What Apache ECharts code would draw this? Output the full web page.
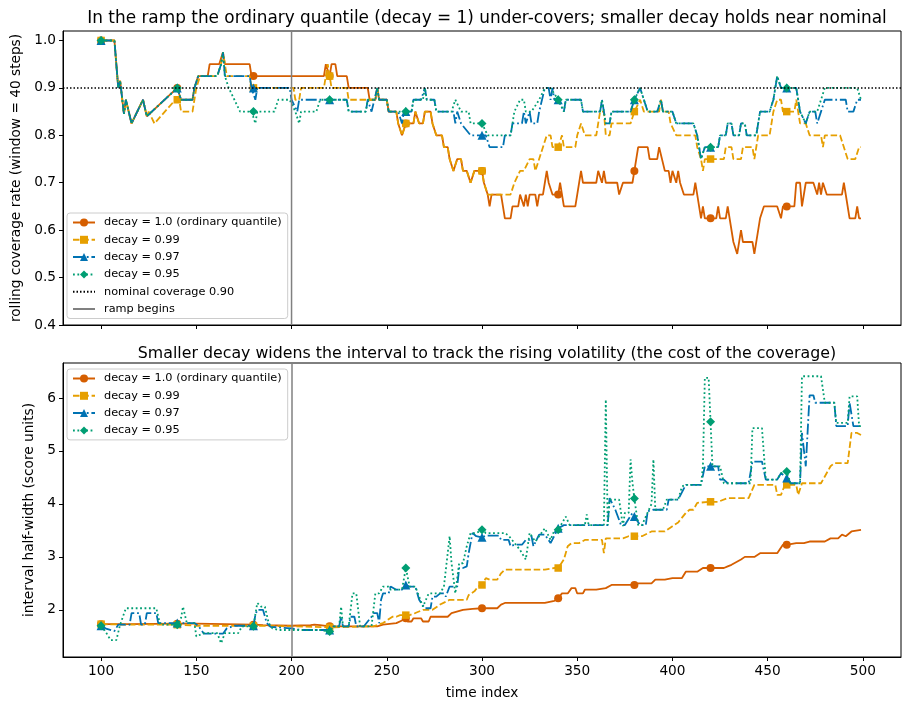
<!DOCTYPE html>
<html><head><meta charset="utf-8">
<script src="https://cdn.jsdelivr.net/npm/echarts@6/dist/echarts.min.js"></script>
<style>html,body{margin:0;padding:0;background:#fff}#c{width:911px;height:711px}</style>
</head><body><div id="c"></div>
<script>
const seriesNames = ['decay = 1.0 (ordinary quantile)', 'decay = 0.99', 'decay = 0.97', 'decay = 0.95'];
const nominalName = 'nominal coverage 0.90';
const rampName = 'ramp begins';
const nominalCoverage = 0.9;
const rampStart = 200;
const markerTimes = [100,140,180,220,260,300,340,380,420,460];
const xTicks = [100,150,200,250,300,350,400,450,500];
const topYTicks = [0.4,0.5,0.6,0.7,0.8,0.9,1.0];
const botYTicks = [2,3,4,5,6];

// rolling coverage (top panel): [time, coverage]
const covOrd = [[100,1.0],[107,1.0],[109,0.9],[110,0.915],[112,0.845],[113,0.875],[116,0.825],[122,0.875],[124,0.84],[140,0.9],[141,0.9],[142,0.875],[148,0.875],[149,0.9],[151,0.925],[156,0.925],[157,0.95],[162,0.95],[164,0.975],[165,0.95],[178,0.95],[179,0.925],[180,0.925],[217,0.925],[218,0.95],[219,0.95],[220,0.925],[221,0.95],[223,0.95],[224,0.925],[229,0.925],[230,0.9],[240,0.9],[241,0.875],[244,0.875],[245,0.9],[246,0.875],[250,0.875],[251,0.85],[255,0.85],[256,0.825],[258,0.8],[260,0.825],[264,0.825],[265,0.85],[266,0.85],[267,0.825],[269,0.825],[270,0.85],[273,0.85],[274,0.825],[276,0.8],[279,0.8],[280,0.775],[282,0.775],[283,0.75],[285,0.725],[287,0.75],[289,0.75],[290,0.725],[292,0.725],[294,0.7],[296,0.725],[300,0.725],[301,0.7],[303,0.675],[304,0.65],[305,0.675],[310,0.675],[311,0.65],[312,0.625],[315,0.625],[316,0.65],[319,0.65],[320,0.675],[321,0.675],[322,0.65],[323,0.675],[324,0.65],[325,0.675],[328,0.675],[329,0.65],[330,0.675],[332,0.675],[333,0.7],[334,0.725],[335,0.7],[336,0.7],[337,0.675],[340,0.675],[341,0.7],[342,0.675],[343,0.65],[349,0.65],[350,0.675],[352,0.725],[353,0.7],[360,0.7],[361,0.725],[362,0.725],[363,0.7],[364,0.725],[365,0.7],[371,0.7],[372,0.675],[373,0.675],[374,0.7],[379,0.7],[380,0.725],[382,0.775],[387,0.775],[388,0.75],[392,0.75],[393,0.775],[394,0.775],[396,0.725],[398,0.725],[399,0.7],[400,0.725],[402,0.7],[403,0.725],[404,0.7],[406,0.675],[411,0.675],[412,0.7],[413,0.675],[415,0.625],[416,0.65],[417,0.625],[420,0.625],[423,0.625],[424,0.65],[425,0.625],[428,0.625],[429,0.65],[430,0.65],[432,0.575],[434,0.55],[436,0.6],[437,0.575],[442,0.575],[443,0.55],[444,0.55],[446,0.625],[448,0.65],[455,0.65],[457,0.625],[458,0.65],[460,0.65],[464,0.65],[465,0.7],[467,0.7],[468,0.65],[470,0.7],[474,0.7],[476,0.675],[477,0.7],[478,0.675],[479,0.7],[480,0.7],[481,0.675],[489,0.675],[490,0.7],[491,0.7],[493,0.625],[496,0.625],[497,0.65],[498,0.625],[499,0.625]];
const cov99 = [[100,1.0],[107,1.0],[109,0.9],[110,0.915],[112,0.845],[113,0.875],[116,0.825],[122,0.875],[124,0.84],[125,0.85],[128,0.825],[139,0.875],[140,0.875],[141,0.875],[142,0.85],[148,0.85],[149,0.875],[150,0.9],[152,0.925],[161,0.925],[163,0.95],[164,0.975],[165,0.95],[166,0.925],[178,0.925],[179,0.9],[180,0.9],[201,0.9],[202,0.875],[204,0.875],[205,0.9],[217,0.9],[218,0.925],[219,0.95],[220,0.925],[221,0.9],[229,0.9],[230,0.875],[240,0.875],[241,0.875],[244,0.875],[245,0.9],[246,0.875],[250,0.875],[251,0.85],[255,0.85],[256,0.825],[258,0.8],[260,0.825],[264,0.825],[265,0.85],[266,0.85],[267,0.825],[269,0.825],[270,0.85],[273,0.85],[274,0.825],[276,0.8],[279,0.8],[280,0.775],[282,0.775],[283,0.75],[285,0.725],[287,0.75],[289,0.75],[290,0.725],[292,0.725],[294,0.7],[296,0.725],[300,0.725],[301,0.7],[303,0.675],[315,0.675],[317,0.7],[320,0.725],[322,0.725],[325,0.75],[327,0.75],[328,0.725],[332,0.775],[334,0.8],[336,0.8],[337,0.775],[340,0.775],[341,0.775],[342,0.8],[343,0.775],[349,0.775],[350,0.8],[352,0.825],[354,0.8],[360,0.8],[362,0.85],[364,0.85],[365,0.8],[367,0.8],[368,0.825],[378,0.825],[380,0.85],[383,0.875],[385,0.85],[393,0.85],[394,0.875],[395,0.85],[398,0.85],[399,0.825],[402,0.8],[412,0.8],[413,0.775],[415,0.75],[416,0.725],[417,0.75],[420,0.75],[427,0.75],[428,0.775],[431,0.775],[432,0.75],[436,0.75],[437,0.775],[442,0.775],[443,0.75],[445,0.8],[451,0.8],[453,0.85],[455,0.875],[457,0.875],[458,0.85],[460,0.85],[464,0.85],[465,0.875],[467,0.825],[470,0.825],[472,0.8],[478,0.8],[479,0.775],[480,0.8],[488,0.8],[492,0.75],[496,0.75],[498,0.775],[499,0.775]];
const cov97 = [[100,1.0],[107,1.0],[109,0.9],[110,0.915],[112,0.845],[113,0.875],[116,0.825],[122,0.875],[124,0.84],[140,0.9],[141,0.9],[142,0.875],[148,0.875],[149,0.9],[151,0.925],[161,0.925],[163,0.95],[164,0.975],[165,0.925],[178,0.925],[179,0.9],[180,0.9],[181,0.875],[182,0.9],[199,0.9],[200,0.875],[203,0.85],[204,0.875],[220,0.875],[229,0.875],[230,0.85],[239,0.85],[240,0.875],[242,0.85],[245,0.9],[246,0.875],[250,0.875],[251,0.85],[256,0.85],[258,0.825],[259,0.85],[260,0.85],[263,0.85],[264,0.875],[268,0.875],[270,0.9],[271,0.875],[275,0.875],[276,0.85],[285,0.85],[286,0.825],[287,0.85],[288,0.85],[289,0.825],[294,0.8],[300,0.8],[302,0.8],[304,0.775],[311,0.775],[312,0.8],[315,0.8],[316,0.825],[321,0.825],[322,0.85],[323,0.825],[324,0.825],[325,0.85],[326,0.825],[329,0.825],[330,0.85],[333,0.9],[335,0.9],[336,0.875],[337,0.9],[338,0.875],[340,0.875],[341,0.875],[343,0.85],[344,0.875],[352,0.875],[353,0.85],[362,0.85],[363,0.875],[365,0.825],[367,0.825],[368,0.85],[378,0.85],[380,0.875],[383,0.9],[385,0.875],[387,0.85],[392,0.85],[394,0.875],[395,0.85],[400,0.85],[402,0.825],[411,0.825],[413,0.8],[415,0.75],[417,0.775],[420,0.775],[424,0.775],[425,0.8],[428,0.8],[429,0.825],[431,0.825],[432,0.8],[435,0.8],[436,0.825],[438,0.825],[439,0.8],[444,0.8],[446,0.85],[451,0.85],[453,0.875],[455,0.925],[457,0.9],[460,0.9],[465,0.9],[467,0.85],[470,0.825],[471,0.825],[472,0.85],[475,0.85],[476,0.825],[478,0.85],[480,0.875],[491,0.875],[492,0.85],[495,0.85],[497,0.875],[499,0.875]];
const cov95 = [[100,1.0],[107,1.0],[109,0.9],[110,0.915],[112,0.845],[113,0.875],[116,0.825],[122,0.875],[124,0.84],[140,0.9],[141,0.9],[142,0.875],[148,0.875],[149,0.9],[151,0.925],[161,0.925],[163,0.95],[164,0.975],[165,0.925],[167,0.9],[170,0.875],[173,0.85],[179,0.85],[180,0.85],[181,0.825],[182,0.85],[191,0.85],[193,0.875],[199,0.875],[202,0.85],[204,0.825],[205,0.85],[213,0.85],[215,0.875],[220,0.875],[229,0.875],[230,0.85],[239,0.85],[240,0.875],[244,0.875],[245,0.9],[246,0.875],[250,0.875],[251,0.85],[260,0.85],[263,0.85],[264,0.875],[269,0.875],[270,0.9],[271,0.875],[275,0.875],[276,0.85],[284,0.85],[286,0.875],[287,0.875],[289,0.85],[293,0.85],[294,0.825],[300,0.825],[301,0.825],[303,0.8],[315,0.8],[317,0.85],[320,0.875],[322,0.875],[323,0.85],[326,0.85],[330,0.875],[333,0.9],[336,0.9],[340,0.875],[341,0.875],[343,0.85],[344,0.875],[352,0.875],[353,0.85],[362,0.85],[363,0.875],[365,0.825],[367,0.825],[368,0.85],[378,0.85],[380,0.875],[383,0.9],[385,0.875],[387,0.85],[392,0.85],[394,0.875],[395,0.85],[400,0.85],[402,0.825],[411,0.825],[413,0.8],[415,0.75],[417,0.775],[420,0.775],[424,0.775],[425,0.8],[428,0.8],[429,0.825],[431,0.825],[432,0.8],[435,0.8],[436,0.825],[438,0.825],[439,0.8],[444,0.8],[446,0.85],[451,0.85],[453,0.875],[455,0.925],[457,0.9],[460,0.9],[465,0.9],[467,0.85],[470,0.825],[472,0.85],[476,0.85],[478,0.875],[480,0.9],[497,0.9],[499,0.875]];

// interval half-width (bottom panel): [time, half-width]
const hwOrd = [[100,1.73],[115,1.73],[116,1.74],[140,1.74],[150,1.74],[151,1.72],[180,1.72],[185,1.71],[200,1.7],[210,1.71],[212,1.72],[215,1.71],[220,1.69],[245,1.69],[248,1.72],[255,1.75],[258,1.8],[259,1.84],[260,1.84],[261,1.78],[263,1.78],[264,1.84],[268,1.84],[269,1.78],[272,1.78],[273,1.87],[282,1.87],[284,1.94],[290,2.0],[295,2.02],[300,2.03],[308,2.03],[310,2.1],[312,2.13],[333,2.13],[338,2.17],[340,2.22],[342,2.31],[345,2.31],[347,2.41],[349,2.41],[350,2.31],[353,2.31],[354,2.38],[360,2.38],[361,2.41],[365,2.41],[368,2.47],[380,2.47],[382,2.5],[389,2.5],[391,2.57],[396,2.57],[400,2.6],[405,2.6],[407,2.72],[413,2.72],[416,2.79],[420,2.79],[427,2.79],[429,2.82],[431,2.85],[436,2.95],[438,3.0],[443,3.0],[446,3.07],[455,3.07],[458,3.23],[460,3.23],[462,3.24],[465,3.26],[469,3.26],[472,3.29],[480,3.29],[483,3.35],[487,3.35],[489,3.42],[491,3.39],[494,3.48],[499,3.51]];
const hw99 = [[100,1.73],[115,1.72],[140,1.72],[150,1.7],[180,1.7],[200,1.69],[220,1.67],[243,1.69],[248,1.75],[253,1.87],[255,1.87],[257,1.9],[260,1.9],[262,1.9],[265,1.94],[269,2.0],[274,2.0],[278,2.1],[283,2.19],[292,2.19],[293,2.28],[296,2.35],[298,2.44],[300,2.47],[302,2.6],[304,2.57],[308,2.57],[310,2.69],[312,2.76],[333,2.76],[338,2.79],[340,2.79],[343,2.95],[345,3.2],[347,3.26],[351,3.26],[354,3.32],[363,3.32],[364,3.07],[365,3.35],[374,3.35],[377,3.39],[380,3.39],[384,3.39],[389,3.48],[396,3.48],[397,3.45],[400,3.58],[403,3.65],[407,3.83],[409,3.89],[411,3.89],[413,4.02],[420,4.04],[424,4.04],[429,4.11],[440,4.11],[443,4.36],[454,4.36],[455,4.17],[457,4.17],[459,4.36],[460,4.36],[465,4.36],[466,4.17],[467,4.17],[468,4.39],[478,4.39],[483,4.71],[485,4.77],[492,4.77],[494,5.34],[497,5.34],[499,5.3]];
const hw97 = [[100,1.7],[103,1.64],[107,1.6],[109,1.72],[115,1.72],[116,1.94],[120,1.94],[121,1.72],[123,1.72],[124,1.94],[129,1.94],[130,1.75],[140,1.75],[149,1.75],[151,1.7],[154,1.55],[164,1.55],[166,1.65],[170,1.7],[180,1.7],[181,1.9],[182,2.0],[185,2.0],[187,1.75],[189,1.68],[200,1.65],[205,1.62],[220,1.62],[222,1.69],[225,1.69],[226,1.87],[227,1.69],[230,1.69],[231,1.87],[233,1.87],[234,1.69],[238,1.69],[242,1.87],[243,1.94],[245,1.94],[246,1.75],[247,2.19],[248,2.31],[251,2.31],[252,2.44],[255,2.38],[258,2.38],[260,2.47],[262,2.44],[265,2.44],[267,2.19],[270,2.03],[273,2.03],[274,2.25],[276,2.25],[278,2.31],[280,2.31],[281,2.25],[283,2.44],[287,2.44],[288,2.79],[290,2.79],[292,2.82],[293,3.07],[295,3.45],[297,3.39],[300,3.37],[302,3.4],[309,3.4],[310,3.32],[314,3.32],[315,3.2],[316,3.2],[317,3.23],[321,3.23],[323,3.32],[325,3.32],[326,3.39],[327,3.2],[330,3.42],[333,3.42],[336,3.26],[338,3.4],[340,3.54],[343,3.6],[366,3.6],[367,4.11],[368,4.11],[370,3.89],[373,3.6],[375,3.6],[379,3.83],[380,3.76],[383,3.6],[386,3.6],[387,3.86],[390,3.89],[397,3.89],[398,4.08],[403,4.08],[407,4.36],[415,4.36],[417,4.71],[420,4.71],[424,4.71],[425,4.46],[427,4.46],[429,4.39],[440,4.39],[442,4.8],[447,4.8],[449,4.46],[455,4.46],[457,4.58],[460,4.49],[462,4.39],[467,4.39],[468,5.34],[469,5.34],[470,4.71],[472,6.05],[474,6.05],[475,5.91],[485,5.91],[486,5.47],[492,5.47],[493,5.91],[494,5.91],[495,5.47],[499,5.47]];
const hw95 = [[100,1.7],[103,1.55],[105,1.43],[108,1.43],[110,1.72],[113,2.03],[129,2.03],[131,1.72],[140,1.72],[142,1.85],[143,2.06],[144,2.06],[145,1.75],[149,1.75],[150,1.5],[154,1.56],[161,1.56],[163,1.37],[165,1.56],[172,1.56],[174,1.69],[180,1.69],[182,2.13],[184,2.06],[186,2.06],[188,1.75],[190,1.65],[193,1.62],[215,1.62],[220,1.59],[222,1.69],[225,1.69],[226,2.06],[227,1.69],[230,1.69],[232,2.31],[234,2.31],[236,1.69],[242,1.69],[244,2.31],[246,2.31],[248,2.44],[251,2.44],[252,2.38],[258,2.38],[260,2.79],[262,2.44],[265,2.44],[269,2.06],[272,2.31],[278,2.31],[280,2.44],[283,3.39],[284,2.88],[286,2.31],[288,2.88],[290,2.88],[292,3.2],[294,3.45],[297,3.45],[300,3.51],[302,3.45],[312,3.45],[314,3.4],[320,3.13],[323,2.95],[325,3.45],[328,3.29],[333,3.54],[336,3.32],[338,3.5],[340,3.51],[344,3.76],[346,3.6],[354,3.6],[355,3.8],[356,3.6],[364,3.6],[365,5.97],[366,3.6],[367,4.08],[372,4.08],[374,3.58],[375,3.83],[377,3.83],[378,4.84],[379,4.4],[380,4.1],[382,3.6],[384,3.6],[389,4.0],[390,4.84],[391,3.89],[395,3.89],[397,4.08],[403,4.08],[405,4.33],[407,4.36],[415,4.36],[416,4.71],[417,6.38],[419,6.38],[420,5.55],[421,4.71],[425,4.71],[427,4.39],[441,4.39],[442,5.43],[447,5.43],[449,4.46],[455,4.46],[457,4.58],[460,4.61],[462,4.39],[467,4.39],[468,6.41],[478,6.41],[480,5.91],[485,5.91],[486,5.53],[492,5.53],[493,6.03],[497,6.03],[498,5.47],[499,5.47]];

const colors = ['#D55E00', '#E69F00', '#0072B2', '#009E73'];
const symbols = ['circle', 'rect', 'triangle', 'diamond'];
const symbolSizes = [8, 7.5, 9, 9];
const dashes = ['solid', [6.5, 2.8], [11, 2.8, 1.8, 2.8], [1.8, 2.6]];
const FONT = 'DejaVu Sans';

function withMarkers(arr) {
  return arr.map(p => markerTimes.indexOf(p[0]) >= 0 ? { value: p } : { value: p, symbol: 'none' });
}

function mkSeries(i, data, axisIdx) {
  return {
    name: seriesNames[i], type: 'line', xAxisIndex: axisIdx, yAxisIndex: axisIdx,
    data: withMarkers(data), symbol: symbols[i], symbolSize: symbolSizes[i],
    showSymbol: true, showAllSymbol: true,
    lineStyle: { color: colors[i], width: 1.8, type: dashes[i] },
    itemStyle: { color: colors[i] },
    emphasis: { disabled: true }, animation: false, z: 2 + i
  };
}

const topSets = [covOrd, cov99, cov97, cov95];
const botSets = [hwOrd, hw99, hw97, hw95];
const series = [];
topSets.forEach((d, i) => series.push(mkSeries(i, d, 0)));
series.push({
  name: nominalName, type: 'line', xAxisIndex: 0, yAxisIndex: 0,
  data: [[80, nominalCoverage], [520, nominalCoverage]], symbol: 'circle', showSymbol: false,
  lineStyle: { color: '#000', width: 1.5, type: [1.5, 2] }, itemStyle: { color: '#000' },
  emphasis: { disabled: true }, animation: false, z: 7
});
series.push({
  name: rampName, type: 'line', xAxisIndex: 0, yAxisIndex: 0,
  data: [[rampStart, 0.4], [rampStart, 1.02]], symbol: 'circle', showSymbol: false,
  lineStyle: { color: '#808080', width: 1.5 }, itemStyle: { color: '#808080' },
  emphasis: { disabled: true }, animation: false, z: 8
});
botSets.forEach((d, i) => series.push(mkSeries(i, d, 1)));
series[series.length - 1].markLine = {
  silent: true, symbol: 'none', animation: false,
  label: { show: false },
  lineStyle: { color: '#808080', width: 1.5, type: 'solid' },
  data: [{ xAxis: rampStart }]
};

const axisCommon = {
  axisLine: { lineStyle: { color: '#000', width: 1 } },
  axisTick: { inside: false, length: 4, lineStyle: { color: '#000' } },
  splitLine: { show: false },
  axisLabel: { color: '#000', fontFamily: FONT, fontSize: 13.7 },
  nameTextStyle: { color: '#000', fontFamily: FONT, fontSize: 13.7 }
};

const legendCommon = {
  orient: 'vertical', left: 67, itemWidth: 22, itemHeight: 10, itemGap: 6.3,
  padding: [4, 6, 4, 5], backgroundColor: 'rgba(255,255,255,0.8)',
  borderColor: '#cccccc', borderWidth: 1, borderRadius: 3,
  textStyle: { fontFamily: FONT, fontSize: 11.3, color: '#000', padding: [0, 0, 0, 4] },
  selectedMode: false
};

const option = {
  backgroundColor: '#fff',
  animation: false,
  title: [
    { text: 'In the ramp the ordinary quantile (decay = 1) under-covers; smaller decay holds near nominal',
      left: 482, top: 5, textAlign: 'center',
      textStyle: { fontFamily: FONT, fontSize: 16.9, fontWeight: 'normal', color: '#000' } },
    { text: 'Smaller decay widens the interval to track the rising volatility (the cost of the coverage)',
      left: 482, top: 341, textAlign: 'center',
      textStyle: { fontFamily: FONT, fontSize: 15.8, fontWeight: 'normal', color: '#000' } }
  ],
  grid: [
    { left: 63, right: 10, top: 31, height: 294, show: true, borderColor: '#000', borderWidth: 1, backgroundColor: 'transparent' },
    { left: 63, right: 10, top: 363, height: 294, show: true, borderColor: '#000', borderWidth: 1, backgroundColor: 'transparent' }
  ],
  legend: [
    Object.assign({}, legendCommon, {
      top: 213,
      data: [
        { name: seriesNames[0] }, { name: seriesNames[1] }, { name: seriesNames[2] }, { name: seriesNames[3] },
        { name: nominalName, itemStyle: { opacity: 0 } }, { name: rampName, itemStyle: { opacity: 0 } }
      ]
    }),
    Object.assign({}, legendCommon, {
      top: 369,
      data: seriesNames.map(n => ({ name: n }))
    })
  ],
  xAxis: [
    Object.assign({}, axisCommon, {
      type: 'value', gridIndex: 0, min: 80, max: 520,
      axisTick: Object.assign({}, axisCommon.axisTick, { customValues: xTicks }),
      axisLabel: Object.assign({}, axisCommon.axisLabel, { show: false, customValues: xTicks })
    }),
    Object.assign({}, axisCommon, {
      type: 'value', gridIndex: 1, min: 80, max: 520,
      name: 'time index', nameLocation: 'middle', nameGap: 29,
      axisTick: Object.assign({}, axisCommon.axisTick, { customValues: xTicks }),
      axisLabel: Object.assign({}, axisCommon.axisLabel, { customValues: xTicks, margin: 7 })
    })
  ],
  yAxis: [
    Object.assign({}, axisCommon, {
      type: 'value', gridIndex: 0, min: 0.4, max: 1.02,
      name: 'rolling coverage rate (window = 40 steps)', nameLocation: 'middle', nameGap: 32,
      axisTick: Object.assign({}, axisCommon.axisTick, { customValues: topYTicks }),
      axisLabel: Object.assign({}, axisCommon.axisLabel, { customValues: topYTicks, margin: 7,
        formatter: v => v.toFixed(1) })
    }),
    Object.assign({}, axisCommon, {
      type: 'value', gridIndex: 1, min: 1.11, max: 6.66,
      name: 'interval half-width (score units)', nameLocation: 'middle', nameGap: 26,
      axisTick: Object.assign({}, axisCommon.axisTick, { customValues: botYTicks }),
      axisLabel: Object.assign({}, axisCommon.axisLabel, { customValues: botYTicks, margin: 7,
        formatter: v => String(Math.round(v)) })
    })
  ],
  series: series
};

const chart = echarts.init(document.getElementById('c'), null, { renderer: 'canvas' });
chart.setOption(option);
</script>
</body></html>
